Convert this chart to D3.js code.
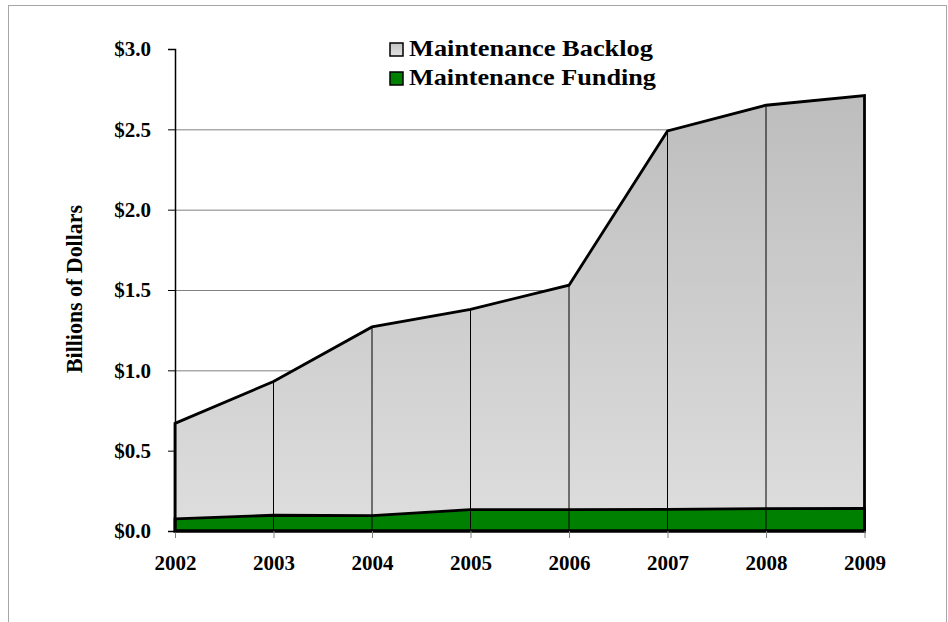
<!DOCTYPE html>
<html>
<head>
<meta charset="utf-8">
<script src="https://cdn.jsdelivr.net/npm/d3@7"></script>
<style>
  body { margin: 0; background: #fff; }
  text { font-family: "Liberation Serif", "Times New Roman", serif; font-weight: bold; }
</style>
</head>
<body>
<div id="chart"></div>
<script>
// chart data (billions of dollars)
const years = ["2002", "2003", "2004", "2005", "2006", "2007", "2008", "2009"];
const backlog = [0.67, 0.93, 1.27, 1.38, 1.53, 2.49, 2.65, 2.71];
const funding = [0.075, 0.098, 0.096, 0.133, 0.133, 0.134, 0.139, 0.141];
const yTicks = [0, 0.5, 1.0, 1.5, 2.0, 2.5, 3.0];
const legendLabels = ["Maintenance Backlog", "Maintenance Funding"];

const W = 948, H = 622;
const plotL = 175, plotR = 864.5, plotT = 49, plotB = 531;

const svg = d3.select("#chart").append("svg")
    .attr("width", W)
    .attr("height", H);

// outer frame (cropped chart border)
svg.append("rect")
    .attr("x", 8.5).attr("y", 5.5)
    .attr("width", 938).attr("height", 700)
    .attr("fill", "none")
    .attr("stroke", "#a6a6a6");

const defs = svg.append("defs");
const grad = defs.append("linearGradient")
    .attr("id", "grayGrad")
    .attr("gradientUnits", "userSpaceOnUse")
    .attr("x1", 0).attr("x2", 0)
    .attr("y1", 95).attr("y2", plotB);
grad.append("stop").attr("offset", "0%").attr("stop-color", "#bdbdbd");
grad.append("stop").attr("offset", "100%").attr("stop-color", "#dedede");

const legGrad = defs.append("linearGradient")
    .attr("id", "legGrad")
    .attr("x1", 0).attr("x2", 0).attr("y1", 0).attr("y2", 1);
legGrad.append("stop").attr("offset", "0%").attr("stop-color", "#c4c4c4");
legGrad.append("stop").attr("offset", "100%").attr("stop-color", "#e2e2e2");

const x = d3.scalePoint().domain(years).range([plotL, plotR]);
const y = d3.scaleLinear().domain([0, 3]).range([plotB, plotT]);

// gridlines
svg.append("g")
    .attr("transform", `translate(${plotL},0)`)
    .call(d3.axisLeft(y).tickValues(yTicks.filter(d => d < 3)).tickSize(-(plotR - plotL)).tickFormat(""))
    .call(g => g.select(".domain").remove())
    .call(g => g.selectAll("line").attr("stroke", "#808080"));

const areaOf = vals => d3.area()
    .x((d, i) => x(years[i]))
    .y0(y(0))
    .y1(d => y(d))(vals);

// backlog area
svg.append("path")
    .attr("d", areaOf(backlog))
    .attr("fill", "url(#grayGrad)");

// funding area
svg.append("path")
    .attr("d", areaOf(funding))
    .attr("fill", "#008000");

// drop lines
svg.append("g").selectAll("line")
    .data(backlog)
    .join("line")
    .attr("x1", (d, i) => x(years[i]))
    .attr("x2", (d, i) => x(years[i]))
    .attr("y1", y(0))
    .attr("y2", d => y(d))
    .attr("stroke", "#000")
    .attr("stroke-width", 1);

// outlines
svg.append("path")
    .attr("d", areaOf(backlog))
    .attr("fill", "none")
    .attr("stroke", "#000")
    .attr("stroke-width", 2.8);
svg.append("path")
    .attr("d", areaOf(funding))
    .attr("fill", "none")
    .attr("stroke", "#000")
    .attr("stroke-width", 2.8);

// x axis ticks + labels
svg.append("g")
    .attr("transform", `translate(0,${plotB})`)
    .call(d3.axisBottom(x).tickSize(7).tickPadding(17))
    .call(g => g.select(".domain").remove())
    .call(g => g.selectAll("line").attr("stroke", "#808080"))
    .call(g => g.selectAll("text")
        .attr("fill", "#000")
        .style("font-size", "21px")
        .style("font-family", "Liberation Serif, serif")
        .style("font-weight", "bold"));

// y axis
svg.append("g")
    .attr("transform", `translate(${plotL},0)`)
    .call(d3.axisLeft(y).tickValues(yTicks).tickSize(7).tickPadding(17)
        .tickFormat(d => "$" + d.toFixed(1)))
    .call(g => g.select(".domain").attr("stroke", "#000").attr("stroke-width", 1.5))
    .call(g => g.selectAll("line").attr("stroke", "#000"))
    .call(g => g.selectAll("text")
        .attr("fill", "#000")
        .style("font-size", "21px")
        .style("font-family", "Liberation Serif, serif")
        .style("font-weight", "bold"));

// y title
svg.append("text")
    .attr("transform", "translate(82,289) rotate(-90)")
    .attr("text-anchor", "middle")
    .attr("textLength", 168)
    .attr("lengthAdjust", "spacingAndGlyphs")
    .style("font-size", "24px")
    .text("Billions of Dollars");

// legend
const legend = svg.append("g");
const swFill = ["url(#legGrad)", "#008000"];
legendLabels.forEach((lab, i) => {
  const by = 56 + i * 29;
  legend.append("rect")
      .attr("x", 390).attr("y", by - 13)
      .attr("width", 13).attr("height", 13)
      .attr("fill", swFill[i])
      .attr("stroke", "#000")
      .attr("stroke-width", 1.5);
  legend.append("text")
      .attr("x", 409).attr("y", by)
      .attr("textLength", i === 0 ? 244 : 247)
      .attr("lengthAdjust", "spacingAndGlyphs")
      .style("font-size", "23px")
      .text(lab);
});
</script>
</body>
</html>
